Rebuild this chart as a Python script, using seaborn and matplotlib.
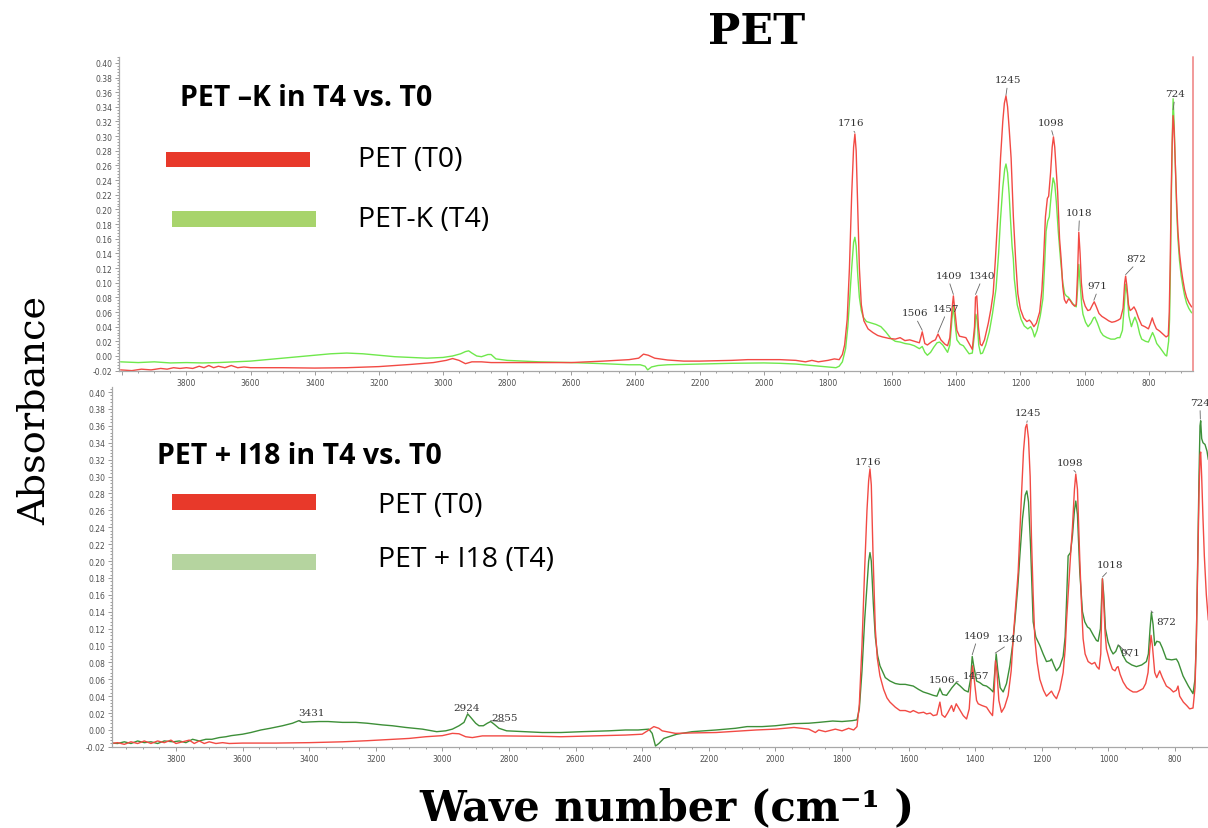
import matplotlib
matplotlib.use("Agg")
import matplotlib.pyplot as plt
import seaborn as sns
import pandas as pd
from matplotlib.ticker import MultipleLocator, FuncFormatter, FormatStrFormatter
from matplotlib.patches import Rectangle

# ---------------- data ----------------
# Top panel: PET (T0) red
top_t0_wn = [4005, 3970, 3940, 3910, 3880, 3860, 3840, 3820, 3800, 3780, 3760, 3745, 3730, 3715, 3700, 3680,
             3660, 3640, 3620, 3600, 3500, 3400, 3300, 3200, 3100, 3030, 2990, 2970, 2950, 2930, 2910, 2880,
             2850, 2800, 2700, 2600, 2500, 2420, 2390, 2375, 2360, 2340, 2300, 2250, 2200, 2100, 2050, 2000,
             1950, 1900, 1870, 1850, 1830, 1800, 1780, 1765, 1755, 1748, 1740, 1733, 1726, 1720, 1716, 1712,
             1707, 1702, 1696, 1688, 1675, 1660, 1645, 1630, 1610, 1590, 1575, 1560, 1545, 1530, 1515, 1506,
             1498, 1490, 1475, 1465, 1457, 1448, 1435, 1427, 1420, 1413, 1409, 1404, 1398, 1390, 1380, 1370,
             1360, 1350, 1343, 1340, 1336, 1331, 1325, 1320, 1312, 1300, 1292, 1285, 1278, 1270, 1262, 1255,
             1250, 1245, 1240, 1235, 1229, 1222, 1215, 1208, 1200, 1190, 1180, 1172, 1166, 1158, 1150, 1140,
             1133, 1128, 1122, 1116, 1112, 1106, 1101, 1097, 1093, 1088, 1084, 1078, 1073, 1068, 1063, 1057,
             1050, 1045, 1038, 1031, 1026, 1022, 1018, 1014, 1010, 1005, 998, 990, 983, 975, 970, 964, 955,
             946, 935, 925, 915, 905, 895, 888, 880, 875, 872, 868, 863, 858, 852, 846, 840, 832, 822, 812,
             801, 795, 789, 784, 776, 766, 756, 746, 739, 736, 733, 730, 727, 724, 721, 717, 713, 709, 704,
             699, 694, 688, 682, 675, 668, 663]
top_t0_abs = [-0.019, -0.020, -0.018, -0.019, -0.017, -0.018, -0.016, -0.017, -0.016, -0.017, -0.014, -0.016,
              -0.013, -0.016, -0.014, -0.016, -0.013, -0.016, -0.015, -0.016, -0.016, -0.0165, -0.016, -0.0145,
              -0.0115, -0.009, -0.006, -0.0035, -0.006, -0.0105, -0.008, -0.008, -0.009, -0.009, -0.009, -0.009,
              -0.007, -0.005, -0.003, 0.0025, 0.001, -0.003, -0.0055, -0.007, -0.007, -0.006, -0.005, -0.005,
              -0.005, -0.006, -0.008, -0.006, -0.008, -0.006, -0.004, -0.005, 0.002, 0.015, 0.05, 0.12, 0.22,
              0.285, 0.303, 0.28, 0.20, 0.12, 0.07, 0.048, 0.037, 0.032, 0.028, 0.026, 0.024, 0.023, 0.025,
              0.021, 0.022, 0.020, 0.018, 0.033, 0.017, 0.015, 0.020, 0.022, 0.030, 0.022, 0.016, 0.014, 0.025,
              0.065, 0.082, 0.060, 0.035, 0.027, 0.026, 0.025, 0.017, 0.009, 0.040, 0.080, 0.082, 0.040, 0.016,
              0.014, 0.022, 0.045, 0.064, 0.085, 0.132, 0.195, 0.27, 0.32, 0.345, 0.355, 0.34, 0.31, 0.27, 0.19,
              0.132, 0.085, 0.064, 0.052, 0.047, 0.049, 0.046, 0.040, 0.045, 0.060, 0.09, 0.13, 0.19, 0.215,
              0.218, 0.25, 0.285, 0.299, 0.285, 0.25, 0.224, 0.16, 0.132, 0.095, 0.077, 0.072, 0.078, 0.076,
              0.071, 0.068, 0.070, 0.11, 0.169, 0.14, 0.10, 0.078, 0.068, 0.062, 0.063, 0.070, 0.074, 0.068,
              0.058, 0.054, 0.051, 0.048, 0.046, 0.047, 0.049, 0.051, 0.065, 0.10, 0.109, 0.095, 0.070, 0.062,
              0.064, 0.067, 0.062, 0.052, 0.042, 0.040, 0.037, 0.044, 0.052, 0.045, 0.037, 0.034, 0.030, 0.026,
              0.028, 0.06, 0.13, 0.22, 0.29, 0.328, 0.31, 0.26, 0.21, 0.17, 0.14, 0.12, 0.105, 0.09, 0.08,
              0.073, 0.068, 0.066]

# Top panel: PET-K (T4) light green
top_t4_wn = [4005, 3950, 3900, 3850, 3800, 3750, 3700, 3650, 3600, 3550, 3500, 3450, 3400, 3350, 3300, 3250,
             3200, 3150, 3100, 3050, 3000, 2970, 2945, 2930, 2920, 2910, 2895, 2880, 2860, 2850, 2835, 2800,
             2700, 2600, 2500, 2420, 2385, 2370, 2362, 2350, 2330, 2300, 2200, 2100, 2000, 1950, 1900, 1850,
             1800, 1775, 1765, 1755, 1745, 1738, 1732, 1726, 1720, 1716, 1712, 1707, 1702, 1696, 1690, 1680,
             1665, 1650, 1635, 1620, 1604, 1590, 1575, 1560, 1545, 1531, 1515, 1506, 1498, 1490, 1480, 1470,
             1460, 1452, 1442, 1433, 1427, 1420, 1413, 1409, 1404, 1398, 1388, 1378, 1368, 1360, 1350, 1343,
             1339, 1335, 1330, 1324, 1318, 1308, 1297, 1287, 1276, 1268, 1262, 1255, 1249, 1245, 1240, 1235,
             1231, 1226, 1222, 1219, 1210, 1198, 1188, 1177, 1168, 1162, 1156, 1148, 1138, 1130, 1125, 1120,
             1115, 1110, 1104, 1098, 1093, 1088, 1082, 1075, 1068, 1062, 1057, 1050, 1044, 1036, 1026, 1022,
             1018, 1014, 1009, 1005, 997, 989, 980, 972, 968, 960, 950, 942, 930, 918, 906, 897, 890, 882,
             876, 872, 867, 862, 854, 848, 843, 836, 828, 822, 810, 801, 794, 788, 782, 775, 766, 756, 748,
             744, 738, 735, 732, 729, 726, 724, 721, 717, 713, 709, 704, 699, 694, 688, 682, 675, 668, 663]
top_t4_abs = [-0.008, -0.009, -0.008, -0.0095, -0.009, -0.0095, -0.009, -0.008, -0.007, -0.005, -0.003,
              -0.001, 0.001, 0.003, 0.004, 0.003, 0.001, -0.001, -0.002, -0.003, -0.002, 0.0, 0.003, 0.006,
              0.007, 0.004, 0.0, -0.001, 0.002, 0.002, -0.004, -0.006, -0.008, -0.009, -0.0105, -0.012, -0.012,
              -0.014, -0.019, -0.015, -0.013, -0.012, -0.011, -0.010, -0.0095, -0.010, -0.011, -0.013, -0.015,
              -0.016, -0.014, -0.008, 0.01, 0.04, 0.08, 0.12, 0.155, 0.162, 0.15, 0.11, 0.08, 0.062, 0.053,
              0.047, 0.045, 0.043, 0.040, 0.033, 0.024, 0.020, 0.019, 0.017, 0.016, 0.014, 0.010, 0.013, 0.005,
              0.001, 0.005, 0.012, 0.018, 0.019, 0.015, 0.009, 0.005, 0.015, 0.052, 0.068, 0.045, 0.022, 0.016,
              0.014, 0.008, 0.003, 0.004, 0.030, 0.057, 0.05, 0.015, 0.003, 0.004, 0.015, 0.033, 0.058, 0.092,
              0.14, 0.187, 0.23, 0.255, 0.262, 0.25, 0.22, 0.187, 0.15, 0.132, 0.105, 0.07, 0.05, 0.041, 0.037,
              0.040, 0.035, 0.026, 0.035, 0.055, 0.078, 0.12, 0.17, 0.184, 0.19, 0.22, 0.243, 0.235, 0.21,
              0.17, 0.132, 0.10, 0.085, 0.082, 0.080, 0.076, 0.071, 0.067, 0.09, 0.125, 0.10, 0.07, 0.057,
              0.046, 0.040, 0.045, 0.052, 0.053, 0.045, 0.033, 0.028, 0.025, 0.023, 0.023, 0.025, 0.025, 0.035,
              0.07, 0.098, 0.085, 0.055, 0.040, 0.048, 0.053, 0.045, 0.030, 0.023, 0.020, 0.019, 0.026, 0.032,
              0.026, 0.017, 0.012, 0.006, 0.001, 0.0, 0.02, 0.05, 0.13, 0.23, 0.31, 0.351, 0.32, 0.26, 0.20,
              0.16, 0.13, 0.11, 0.096, 0.082, 0.072, 0.065, 0.060, 0.058]

# Bottom panel: PET (T0) red
bot_t0_wn = [3995, 3975, 3955, 3935, 3915, 3895, 3875, 3855, 3835, 3815, 3800, 3780, 3760, 3745, 3730, 3715,
             3700, 3680, 3660, 3640, 3600, 3500, 3400, 3300, 3226, 3150, 3100, 3050, 3000, 2970, 2950, 2930,
             2910, 2880, 2820, 2700, 2644, 2550, 2450, 2400, 2380, 2365, 2350, 2340, 2300, 2250, 2178, 2100,
             2058, 2000, 1944, 1900, 1880, 1870, 1850, 1820, 1800, 1780, 1765, 1755, 1748, 1740, 1732, 1725,
             1720, 1716, 1712, 1707, 1700, 1694, 1686, 1675, 1665, 1656, 1640, 1626, 1610, 1595, 1586, 1570,
             1555, 1546, 1535, 1526, 1515, 1506, 1500, 1491, 1483, 1471, 1465, 1457, 1448, 1436, 1426, 1418,
             1412, 1408, 1403, 1396, 1391, 1380, 1366, 1356, 1348, 1343, 1339, 1335, 1329, 1321, 1312, 1301,
             1292, 1286, 1278, 1271, 1262, 1255, 1249, 1245, 1240, 1235, 1231, 1226, 1221, 1214, 1206, 1195,
             1186, 1176, 1171, 1164, 1156, 1146, 1136, 1130, 1126, 1118, 1114, 1108, 1102, 1098, 1093, 1086,
             1081, 1076, 1070, 1061, 1050, 1041, 1035, 1028, 1023, 1018, 1014, 1010, 1006, 996, 988, 980, 975,
             971, 965, 956, 945, 935, 926, 915, 905, 896, 888, 881, 876, 872, 868, 861, 855, 846, 838, 826,
             815, 805, 796, 791, 786, 775, 765, 756, 746, 740, 736, 732, 728, 725, 723, 720, 716, 712, 706, 700]
bot_t0_abs = [-0.016, -0.015, -0.017, -0.014, -0.016, -0.013, -0.016, -0.013, -0.015, -0.012, -0.016, -0.014,
              -0.012, -0.016, -0.013, -0.016, -0.014, -0.016, -0.015, -0.016, -0.0155, -0.0155, -0.015, -0.014,
              -0.0127, -0.011, -0.010, -0.008, -0.0067, -0.004, -0.0045, -0.008, -0.009, -0.007, -0.007,
              -0.0075, -0.008, -0.007, -0.006, -0.005, 0.0, 0.004, 0.002, -0.001, -0.004, -0.0035, -0.003,
              -0.001, 0.0, 0.001, 0.003, 0.001, -0.003, 0.0, -0.002, 0.001, -0.001, 0.002, 0.0, 0.004, 0.03,
              0.10, 0.19, 0.26, 0.295, 0.309, 0.29, 0.21, 0.12, 0.085, 0.064, 0.048, 0.038, 0.033, 0.027, 0.023,
              0.023, 0.021, 0.023, 0.020, 0.021, 0.019, 0.020, 0.017, 0.018, 0.033, 0.018, 0.015, 0.020, 0.029,
              0.022, 0.031, 0.025, 0.017, 0.013, 0.025, 0.06, 0.076, 0.06, 0.035, 0.031, 0.029, 0.027, 0.021,
              0.017, 0.045, 0.082, 0.07, 0.035, 0.021, 0.027, 0.041, 0.07, 0.108, 0.15, 0.187, 0.27, 0.33, 0.358,
              0.362, 0.345, 0.30, 0.226, 0.16, 0.108, 0.08, 0.060, 0.047, 0.040, 0.044, 0.046, 0.041, 0.037,
              0.048, 0.068, 0.095, 0.128, 0.18, 0.205, 0.24, 0.285, 0.303, 0.285, 0.202, 0.15, 0.108, 0.09,
              0.081, 0.078, 0.080, 0.075, 0.072, 0.09, 0.179, 0.15, 0.115, 0.096, 0.081, 0.072, 0.070, 0.074,
              0.075, 0.066, 0.057, 0.050, 0.047, 0.045, 0.045, 0.047, 0.049, 0.055, 0.068, 0.095, 0.112, 0.10,
              0.068, 0.062, 0.070, 0.062, 0.052, 0.049, 0.045, 0.047, 0.052, 0.040, 0.033, 0.029, 0.025, 0.026,
              0.05, 0.108, 0.19, 0.28, 0.325, 0.329, 0.30, 0.25, 0.206, 0.16, 0.13]

# Bottom panel: PET + I18 (T4) dark green
bot_t4_wn = [3995, 3975, 3955, 3935, 3915, 3895, 3875, 3855, 3835, 3808, 3790, 3770, 3750, 3730, 3710, 3692,
             3670, 3650, 3634, 3600, 3575, 3545, 3517, 3480, 3450, 3431, 3420, 3400, 3370, 3343, 3300, 3260,
             3226, 3180, 3150, 3110, 3060, 3017, 2990, 2970, 2950, 2935, 2924, 2915, 2900, 2890, 2877, 2865,
             2855, 2845, 2830, 2807, 2750, 2700, 2644, 2580, 2500, 2450, 2412, 2380, 2370, 2360, 2350, 2335,
             2320, 2296, 2250, 2178, 2120, 2085, 2040, 2000, 1944, 1900, 1870, 1828, 1800, 1770, 1755, 1748,
             1740, 1732, 1725, 1720, 1716, 1712, 1706, 1700, 1693, 1686, 1670, 1656, 1640, 1626, 1610, 1586,
             1570, 1556, 1540, 1526, 1515, 1506, 1498, 1486, 1470, 1457, 1445, 1432, 1421, 1414, 1409, 1404,
             1396, 1386, 1376, 1366, 1356, 1346, 1341, 1337, 1332, 1325, 1316, 1306, 1296, 1288, 1281, 1272,
             1266, 1258, 1250, 1245, 1240, 1234, 1226, 1218, 1206, 1196, 1186, 1175, 1171, 1163, 1156, 1146,
             1136, 1130, 1126, 1121, 1114, 1108, 1102, 1098, 1093, 1086, 1078, 1071, 1063, 1056, 1045, 1036,
             1031, 1024, 1018, 1014, 1009, 1001, 993, 986, 978, 971, 966, 956, 946, 930, 916, 900, 886, 880,
             875, 871, 866, 861, 855, 846, 838, 826, 810, 796, 790, 776, 760, 746, 740, 736, 732, 728, 725,
             723, 720, 716, 710, 704, 700]
bot_t4_abs = [-0.0155, -0.016, -0.014, -0.016, -0.013, -0.015, -0.014, -0.016, -0.013, -0.014, -0.013,
              -0.015, -0.011, -0.013, -0.011, -0.011, -0.009, -0.008, -0.0067, -0.005, -0.003, 0.0, 0.002,
              0.005, 0.008, 0.011, 0.009, 0.0095, 0.010, 0.010, 0.009, 0.009, 0.008, 0.006, 0.005, 0.003,
              0.001, -0.002, -0.001, 0.001, 0.005, 0.009, 0.019, 0.015, 0.008, 0.005, 0.005, 0.008, 0.010,
              0.007, 0.002, -0.001, -0.002, -0.003, -0.003, -0.002, -0.001, 0.0, 0.0, 0.001, -0.004, -0.019,
              -0.016, -0.010, -0.008, -0.005, -0.002, 0.0, 0.002, 0.004, 0.004, 0.005, 0.0075, 0.008, 0.009,
              0.0106, 0.010, 0.011, 0.012, 0.025, 0.07, 0.13, 0.17, 0.20, 0.21, 0.20, 0.15, 0.11, 0.088, 0.076,
              0.062, 0.058, 0.055, 0.054, 0.054, 0.052, 0.048, 0.045, 0.043, 0.041, 0.040, 0.049, 0.042, 0.041,
              0.050, 0.056, 0.052, 0.047, 0.045, 0.06, 0.087, 0.075, 0.058, 0.056, 0.053, 0.052, 0.049, 0.045,
              0.07, 0.09, 0.07, 0.05, 0.045, 0.055, 0.076, 0.10, 0.128, 0.17, 0.206, 0.25, 0.278, 0.283, 0.27,
              0.22, 0.128, 0.11, 0.10, 0.09, 0.081, 0.082, 0.084, 0.076, 0.07, 0.075, 0.087, 0.11, 0.15, 0.206,
              0.21, 0.23, 0.26, 0.271, 0.255, 0.187, 0.14, 0.128, 0.122, 0.12, 0.112, 0.106, 0.105, 0.12, 0.179,
              0.16, 0.12, 0.104, 0.095, 0.09, 0.093, 0.10, 0.099, 0.088, 0.081, 0.077, 0.075, 0.077, 0.081,
              0.09, 0.12, 0.139, 0.125, 0.10, 0.105, 0.104, 0.097, 0.084, 0.083, 0.084, 0.080, 0.064, 0.052,
              0.043, 0.06, 0.108, 0.2, 0.3, 0.36, 0.366, 0.345, 0.34, 0.338, 0.33, 0.32]

# Peak labels
top_peak_labels = ["1716", "1506", "1457", "1409", "1340", "1245", "1098", "1018", "971", "872", "724"]
top_peak_wn = [1716, 1506, 1457, 1409, 1340, 1245, 1098, 1018, 971, 872, 724]
top_peak_abs = [0.305, 0.035, 0.032, 0.084, 0.084, 0.356, 0.301, 0.171, 0.076, 0.111, 0.336]
bot_peak_labels = ["3431", "2924", "2855", "1716", "1506", "1457", "1409", "1340", "1245", "1098", "1018",
                   "971", "872", "724"]
bot_peak_wn = [3431, 2924, 2855, 1716, 1506, 1457, 1409, 1340, 1245, 1098, 1018, 971, 872, 724]
bot_peak_abs = [0.011, 0.020, 0.011, 0.311, 0.050, 0.057, 0.089, 0.091, 0.364, 0.305, 0.181, 0.101, 0.141,
                0.368]

# label text centres (layout)
top_label_pos = [(1728, 0.318), (1527, 0.059), (1431, 0.065), (1424, 0.110), (1321, 0.110), (1240, 0.377),
                 (1106, 0.319), (1016, 0.196), (959, 0.096), (838, 0.133), (719, 0.358)]
bot_label_pos = [(3393, 0.021), (2926, 0.027), (2812, 0.015), (1722, 0.318), (1499, 0.060), (1399, 0.064),
                 (1395, 0.112), (1296, 0.108), (1241, 0.376), (1115, 0.317), (995, 0.196), (933, 0.092),
                 (827, 0.129), (725, 0.388)]

# ---------------- figure ----------------
sns.set_theme(style="white")
plt.rcParams['font.family'] = ['DejaVu Sans']

W, H = 1208, 829
fig = plt.figure(figsize=(W / 100, H / 100), dpi=100)


def fx(px):
    return px / W


def fy(py):
    return 1 - py / H


ax1 = fig.add_axes([fx(119), fy(372), (1193 - 119) / W, (372 - 58) / H])
ax2 = fig.add_axes([fx(112), fy(748.3), (1208 - 112) / W, (748.3 - 388) / H])

RED = "#f24a44"
LGREEN = "#6fe84c"
DGREEN = "#3d8f38"

df_top = pd.concat([
    pd.DataFrame({"wn": top_t0_wn, "abs": top_t0_abs, "s": "T0"}),
    pd.DataFrame({"wn": top_t4_wn, "abs": top_t4_abs, "s": "T4"}),
])
df_bot = pd.concat([
    pd.DataFrame({"wn": bot_t0_wn, "abs": bot_t0_abs, "s": "T0"}),
    pd.DataFrame({"wn": bot_t4_wn, "abs": bot_t4_abs, "s": "T4"}),
])

sns.lineplot(data=df_top, x="wn", y="abs", hue="s", hue_order=["T4", "T0"],
             palette={"T0": RED, "T4": LGREEN}, estimator=None, sort=False,
             linewidth=1.0, ax=ax1, legend=False)
sns.lineplot(data=df_bot, x="wn", y="abs", hue="s", hue_order=["T4", "T0"],
             palette={"T0": RED, "T4": DGREEN}, estimator=None, sort=False,
             linewidth=1.0, ax=ax2, legend=False)


def style(ax, xlim, ylim):
    ax.set_xlim(*xlim)
    ax.set_ylim(*ylim)
    ax.grid(False)
    ax.set_facecolor("white")
    for s in ["top", "right"]:
        ax.spines[s].set_visible(False)
    for s in ["left", "bottom"]:
        ax.spines[s].set_color("#a8a8a8")
        ax.spines[s].set_linewidth(0.9)
    ax.xaxis.set_major_locator(MultipleLocator(200))
    ax.xaxis.set_minor_locator(MultipleLocator(50))
    ax.yaxis.set_major_locator(MultipleLocator(0.02))
    ax.yaxis.set_minor_locator(MultipleLocator(0.004))
    ax.xaxis.set_major_formatter(FuncFormatter(lambda v, p: "" if v > 3900 else f"{v:.0f}"))
    ax.yaxis.set_major_formatter(FormatStrFormatter("%.2f"))
    ax.tick_params(which="both", bottom=True, left=True, direction="out", colors="#8c8c8c",
                   labelcolor="#4f4f4f", labelsize=5.5, width=0.6, pad=2)
    ax.tick_params(which="major", length=3)
    ax.tick_params(which="minor", length=1.6)
    ax.set_xlabel("")
    ax.set_ylabel("")


style(ax1, (4010, 662), (-0.0205, 0.408))
style(ax2, (3992, 701), (-0.0205, 0.406))

ax1.axvline(662, color="#f29a9a", lw=1.4, clip_on=False)


def label_peaks(ax, labels, wns, tops, positions):
    for lab, w, t, (tx, ty) in zip(labels, wns, tops, positions):
        ax.annotate(lab, xy=(w, t), xytext=(tx, ty), ha="center", va="center",
                    fontsize=7.5, family="DejaVu Serif", color="#333333", annotation_clip=False,
                    arrowprops=dict(arrowstyle="-", color="#666666", lw=0.6, shrinkA=0.5, shrinkB=0,
                                    relpos=(0.5, 0.0)))


label_peaks(ax1, top_peak_labels, top_peak_wn, top_peak_abs, top_label_pos)
label_peaks(ax2, bot_peak_labels, bot_peak_wn, bot_peak_abs, bot_label_pos)

# ---------------- titles ----------------
fig.text(fx(757), fy(44), "PET", ha="center", va="baseline", fontsize=31, fontweight="bold",
         family="DejaVu Serif", color="black")
fig.text(fx(35), fy(410), "Absorbance", ha="center", va="center", rotation=90, fontsize=27.5,
         family="DejaVu Serif", color="black")
fig.text(fx(667), fy(820), "Wave number (cm\u207b\u00b9 )", ha="center", va="baseline", fontsize=30,
         fontweight="bold", family="DejaVu Serif", color="black")

# ---------------- hand-made legends ----------------
def bar(x0, y0, x1, y1, color):
    fig.add_artist(Rectangle((fx(x0), fy(y1)), (x1 - x0) / W, (y1 - y0) / H, color=color,
                             transform=fig.transFigure, lw=0))


fig.text(fx(180), fy(98), "PET \u2013K in T4 vs. T0", ha="left", va="center", fontsize=20.5,
         fontweight="bold", family="Open Sans", color="black")
bar(166, 153, 310, 168, "#e8392a")
fig.text(fx(358), fy(160), "PET (T0)", ha="left", va="center", fontsize=20.5, family="Open Sans",
         color="black")
bar(172, 212, 316, 228, "#a8d46c")
fig.text(fx(358), fy(220), "PET-K (T4)", ha="left", va="center", fontsize=20.5, family="Open Sans",
         color="black")

fig.text(fx(157), fy(457), "PET + I18 in T4 vs. T0", ha="left", va="center", fontsize=20.5,
         fontweight="bold", family="Open Sans", color="black")
bar(172, 495, 316, 511, "#e8392a")
fig.text(fx(378), fy(506), "PET (T0)", ha="left", va="center", fontsize=20.5, family="Open Sans",
         color="black")
bar(172, 555, 316, 571, "#b5d49f")
fig.text(fx(378), fy(560), "PET + I18 (T4)", ha="left", va="center", fontsize=20.5, family="Open Sans",
         color="black")

fig.savefig("out.png", dpi=100, facecolor="white")
